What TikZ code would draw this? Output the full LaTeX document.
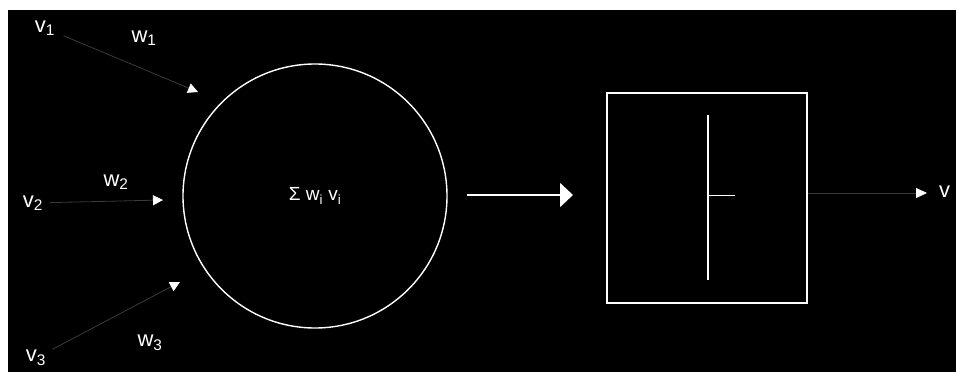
\documentclass[tikz,border=0pt]{standalone}
\usepackage{fontspec}
\setmainfont{Liberation Sans}
\usetikzlibrary{arrows.meta}
\definecolor{nnInk}{HTML}{FFFFFF}
\definecolor{nnPaper}{HTML}{000000}
\definecolor{nnFaint}{HTML}{3A3A3A}

\begin{document}
\begin{tikzpicture}[
  x=1pt, y=-1pt,
  font=\fontsize{22}{26}\selectfont,
  lbl/.style={text=nnInk, inner sep=1pt},
  sumnode/.style={circle, draw=nnInk, line width=1.4pt, minimum size=264pt,
                  text=nnInk, font=\fontsize{19}{22}\selectfont},
  stepbox/.style={draw=nnInk, line width=1.6pt, minimum width=200pt,
                  minimum height=210pt, inner sep=0pt},
  inflow/.style={draw=nnFaint, line width=0.8pt,
                 -{Triangle[length=10pt, width=10pt, color=nnInk]}},
  outflow/.style={draw=nnFaint, line width=0.8pt,
                  -{Triangle[length=11pt, width=10pt, color=nnInk]}},
  mainflow/.style={draw=nnInk, line width=1.6pt,
                   -{Triangle[length=13pt, width=24pt]}},
]
\useasboundingbox (0,0) rectangle (956,372);
\fill[white] (0,0) rectangle (956,372);
\fill[nnPaper] (8,10) rectangle (956,372);

% ======================= inputs =========================================
\node[lbl] (v1) at (45,28) {v\textsubscript{1}};
\node[lbl] (v2) at (33,203) {v\textsubscript{2}};
\node[lbl] (v3) at (36,358) {v\textsubscript{3}};
\node[lbl] (w1) at (144,38) {w\textsubscript{1}};
\node[lbl] (w2) at (116,182) {w\textsubscript{2}};
\node[lbl] (w3) at (150,343) {w\textsubscript{3}};
\coordinate (t1) at (198,92);
\coordinate (t2) at (163,200);
\coordinate (t3) at (180,282);

\draw[inflow, shorten <=8pt] (v1) -- (t1);
\draw[inflow, shorten <=6pt] (v2) -- (t2);
\draw[inflow, shorten <=6pt] (v3) -- (t3);

% ======================= sum ============================================
\node[sumnode] (sum) at (315,196) {Σ w\textsubscript{i} v\textsubscript{i}};

% ======================= threshold ======================================
\node[stepbox] (box) at (707,198) {};
\coordinate (mtail) at (467,195);
\coordinate (mtip) at (573,195);
\draw[mainflow] (mtail) -- (mtip);
\coordinate (axtop) at (708,115);
\coordinate (axbot) at (708,280);
\coordinate (tick) at (735,195);
\draw[draw=nnInk, line width=1.2pt] (axtop) -- (axbot);
\draw[draw=nnInk, line width=1pt] (axtop |- tick) -- (tick);

% ======================= output =========================================
\node[lbl, anchor=west] (vout) at (938,192) {v};
\coordinate (otip) at (927,193);
\draw[outflow] (box.east |- otip) -- (otip);
\end{tikzpicture}
\end{document}
